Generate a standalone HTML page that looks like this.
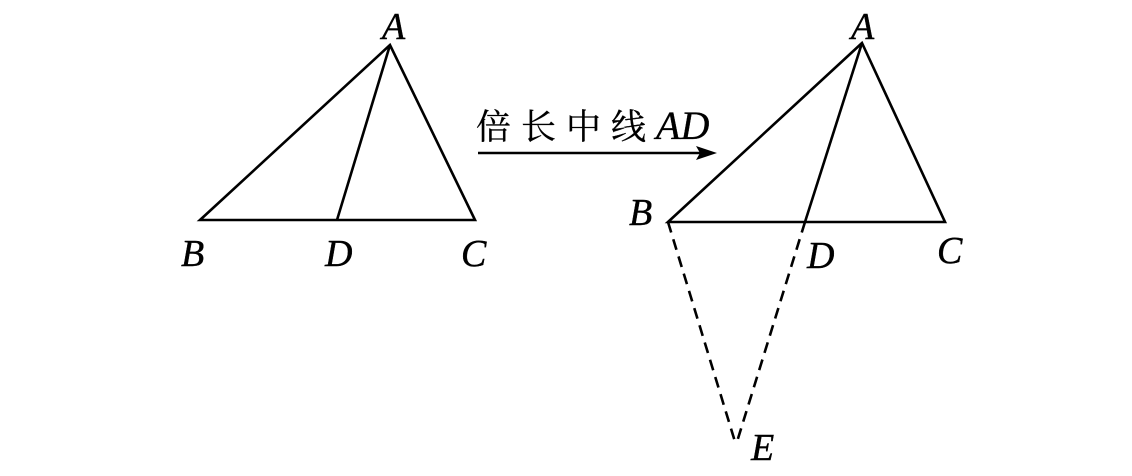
<!DOCTYPE html>
<html><head><meta charset="utf-8"><style>
html,body{margin:0;padding:0;background:#fff;}
svg{display:block}
text{font-family:"Liberation Serif",serif;font-style:italic;font-size:38px;fill:#000;stroke:#000;stroke-width:0.4}
.cj{font-family:"Liberation Serif","Noto Serif CJK SC",serif;font-style:normal;font-size:35px;letter-spacing:10px;stroke-width:0.3}
</style></head><body>
<svg width="1132" height="476" viewBox="0 0 1132 476">
<g stroke="#000" stroke-width="2.6" fill="none" stroke-linejoin="miter">
<polygon points="390,45 200,220 475,220"/>
<line x1="390" y1="45" x2="337" y2="220"/>
<line x1="478" y1="153" x2="700" y2="153"/>
<polygon points="862,43 668,222 945,222"/>
<line x1="862" y1="43" x2="805" y2="222"/>
<line x1="668" y1="222" x2="736" y2="445" stroke-dasharray="11,7"/>
<line x1="805" y1="222" x2="736" y2="445" stroke-dasharray="11,7"/>
</g>
<polygon points="717,153 696,146 700,153 696,160" fill="#000"/>
<text x="382" y="39">A</text>
<text x="181" y="266">B</text>
<text x="325" y="266">D</text>
<text x="461" y="266">C</text>
<text class="cj" x="476" y="139">倍长中线<tspan style="font-family:'Liberation Serif',serif;font-style:italic;font-size:40px;letter-spacing:0">AD</tspan></text>
<text x="851" y="39">A</text>
<text x="629" y="225">B</text>
<text x="807" y="268">D</text>
<text x="937" y="263">C</text>
<text x="751" y="460">E</text>
</svg>
</body></html>
